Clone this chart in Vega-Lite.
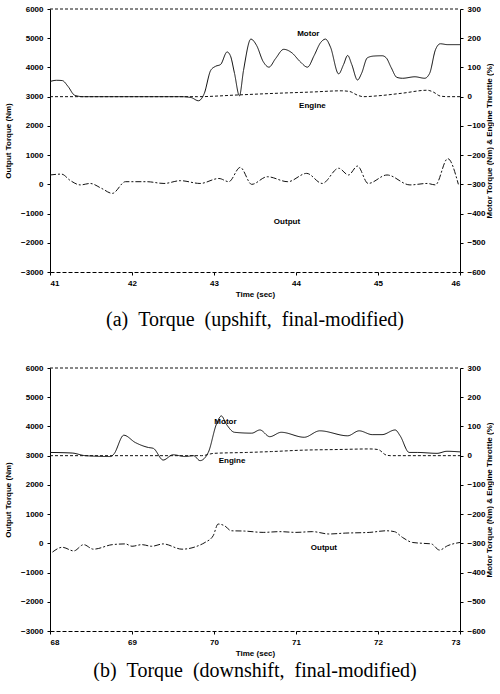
{
  "$schema": "https://vega.github.io/schema/vega-lite/v6.json",
  "background": "white",
  "padding": {"left": 4, "top": 5, "right": 0, "bottom": 0},
  "config": {
    "font": "Liberation Sans",
    "view": {"stroke": null},
    "axis": {"grid": false, "domainColor": "#000", "tickColor": "#000", "labelColor": "#000", "titleColor": "#000", "labelFont": "Liberation Sans", "labelFontSize": 8, "labelFontWeight": "bold", "titleFont": "Liberation Sans", "titleFontSize": 8, "titleFontWeight": "bold", "tickSize": 3, "labelPadding": 4, "format": "d"},
    "title": {"font": "Liberation Serif", "fontSize": 20, "fontWeight": "normal", "color": "#000"}
  },
  "datasets": {
    "d": [
      {"p":"a","s":"Motor","t":41.0,"v":52},{"p":"a","s":"Motor","t":41.08,"v":56},{"p":"a","s":"Motor","t":41.15,"v":55},{"p":"a","s":"Motor","t":41.22,"v":35},{"p":"a","s":"Motor","t":41.3,"v":5},{"p":"a","s":"Motor","t":41.4,"v":0},{"p":"a","s":"Motor","t":42.0,"v":0},{"p":"a","s":"Motor","t":42.6,"v":0},{"p":"a","s":"Motor","t":42.72,"v":-3},{"p":"a","s":"Motor","t":42.81,"v":-14},{"p":"a","s":"Motor","t":42.88,"v":10},{"p":"a","s":"Motor","t":42.96,"v":90},{"p":"a","s":"Motor","t":43.02,"v":104},{"p":"a","s":"Motor","t":43.08,"v":110},{"p":"a","s":"Motor","t":43.16,"v":153},{"p":"a","s":"Motor","t":43.2,"v":140},{"p":"a","s":"Motor","t":43.25,"v":80},{"p":"a","s":"Motor","t":43.31,"v":3},{"p":"a","s":"Motor","t":43.36,"v":90},{"p":"a","s":"Motor","t":43.45,"v":197},{"p":"a","s":"Motor","t":43.52,"v":175},{"p":"a","s":"Motor","t":43.6,"v":120},{"p":"a","s":"Motor","t":43.67,"v":101},{"p":"a","s":"Motor","t":43.75,"v":130},{"p":"a","s":"Motor","t":43.85,"v":162},{"p":"a","s":"Motor","t":43.95,"v":150},{"p":"a","s":"Motor","t":44.05,"v":120},{"p":"a","s":"Motor","t":44.14,"v":101},{"p":"a","s":"Motor","t":44.22,"v":140},{"p":"a","s":"Motor","t":44.3,"v":185},{"p":"a","s":"Motor","t":44.36,"v":197},{"p":"a","s":"Motor","t":44.42,"v":170},{"p":"a","s":"Motor","t":44.52,"v":78},{"p":"a","s":"Motor","t":44.58,"v":110},{"p":"a","s":"Motor","t":44.63,"v":141},{"p":"a","s":"Motor","t":44.68,"v":110},{"p":"a","s":"Motor","t":44.75,"v":57},{"p":"a","s":"Motor","t":44.8,"v":80},{"p":"a","s":"Motor","t":44.87,"v":133},{"p":"a","s":"Motor","t":44.95,"v":139},{"p":"a","s":"Motor","t":45.05,"v":140},{"p":"a","s":"Motor","t":45.1,"v":133},{"p":"a","s":"Motor","t":45.16,"v":100},{"p":"a","s":"Motor","t":45.23,"v":66},{"p":"a","s":"Motor","t":45.3,"v":63},{"p":"a","s":"Motor","t":45.45,"v":68},{"p":"a","s":"Motor","t":45.57,"v":63},{"p":"a","s":"Motor","t":45.63,"v":80},{"p":"a","s":"Motor","t":45.7,"v":160},{"p":"a","s":"Motor","t":45.76,"v":181},{"p":"a","s":"Motor","t":45.85,"v":178},{"p":"a","s":"Motor","t":46.0,"v":178},
      {"p":"a","s":"Engine","t":41.0,"v":0},{"p":"a","s":"Engine","t":42.8,"v":0},{"p":"a","s":"Engine","t":43.3,"v":6},{"p":"a","s":"Engine","t":43.8,"v":12},{"p":"a","s":"Engine","t":44.2,"v":16},{"p":"a","s":"Engine","t":44.55,"v":20},{"p":"a","s":"Engine","t":44.65,"v":18},{"p":"a","s":"Engine","t":44.75,"v":5},{"p":"a","s":"Engine","t":44.82,"v":0},{"p":"a","s":"Engine","t":45.0,"v":3},{"p":"a","s":"Engine","t":45.3,"v":12},{"p":"a","s":"Engine","t":45.6,"v":22},{"p":"a","s":"Engine","t":45.68,"v":15},{"p":"a","s":"Engine","t":45.76,"v":2},{"p":"a","s":"Engine","t":45.85,"v":0},{"p":"a","s":"Engine","t":46.0,"v":0},
      {"p":"a","s":"Output","t":41.0,"v":320},{"p":"a","s":"Output","t":41.14,"v":350},{"p":"a","s":"Output","t":41.25,"v":125},{"p":"a","s":"Output","t":41.37,"v":-20},{"p":"a","s":"Output","t":41.49,"v":30},{"p":"a","s":"Output","t":41.63,"v":-140},{"p":"a","s":"Output","t":41.76,"v":-310},{"p":"a","s":"Output","t":41.92,"v":90},{"p":"a","s":"Output","t":42.18,"v":90},{"p":"a","s":"Output","t":42.39,"v":30},{"p":"a","s":"Output","t":42.59,"v":125},{"p":"a","s":"Output","t":42.83,"v":30},{"p":"a","s":"Output","t":43.06,"v":200},{"p":"a","s":"Output","t":43.18,"v":90},{"p":"a","s":"Output","t":43.32,"v":580},{"p":"a","s":"Output","t":43.46,"v":0},{"p":"a","s":"Output","t":43.65,"v":260},{"p":"a","s":"Output","t":43.9,"v":90},{"p":"a","s":"Output","t":44.13,"v":375},{"p":"a","s":"Output","t":44.32,"v":30},{"p":"a","s":"Output","t":44.52,"v":550},{"p":"a","s":"Output","t":44.64,"v":320},{"p":"a","s":"Output","t":44.75,"v":625},{"p":"a","s":"Output","t":44.88,"v":30},{"p":"a","s":"Output","t":45.11,"v":320},{"p":"a","s":"Output","t":45.39,"v":-20},{"p":"a","s":"Output","t":45.6,"v":30},{"p":"a","s":"Output","t":45.7,"v":-20},{"p":"a","s":"Output","t":45.85,"v":880},{"p":"a","s":"Output","t":45.98,"v":0},
      {"p":"b","s":"Motor","t":68.0,"v":11},{"p":"b","s":"Motor","t":68.27,"v":9},{"p":"b","s":"Motor","t":68.43,"v":0},{"p":"b","s":"Motor","t":68.74,"v":-3},{"p":"b","s":"Motor","t":68.78,"v":6},{"p":"b","s":"Motor","t":68.9,"v":70},{"p":"b","s":"Motor","t":69.04,"v":45},{"p":"b","s":"Motor","t":69.2,"v":28},{"p":"b","s":"Motor","t":69.26,"v":25},{"p":"b","s":"Motor","t":69.38,"v":-15},{"p":"b","s":"Motor","t":69.5,"v":3},{"p":"b","s":"Motor","t":69.65,"v":-3},{"p":"b","s":"Motor","t":69.75,"v":0},{"p":"b","s":"Motor","t":69.83,"v":-17},{"p":"b","s":"Motor","t":69.93,"v":11},{"p":"b","s":"Motor","t":70.03,"v":108},{"p":"b","s":"Motor","t":70.09,"v":136},{"p":"b","s":"Motor","t":70.15,"v":108},{"p":"b","s":"Motor","t":70.25,"v":80},{"p":"b","s":"Motor","t":70.46,"v":77},{"p":"b","s":"Motor","t":70.56,"v":88},{"p":"b","s":"Motor","t":70.68,"v":65},{"p":"b","s":"Motor","t":70.82,"v":80},{"p":"b","s":"Motor","t":71.1,"v":63},{"p":"b","s":"Motor","t":71.29,"v":85},{"p":"b","s":"Motor","t":71.63,"v":68},{"p":"b","s":"Motor","t":71.77,"v":85},{"p":"b","s":"Motor","t":71.93,"v":72},{"p":"b","s":"Motor","t":72.05,"v":72},{"p":"b","s":"Motor","t":72.21,"v":88},{"p":"b","s":"Motor","t":72.27,"v":68},{"p":"b","s":"Motor","t":72.38,"v":11},{"p":"b","s":"Motor","t":72.48,"v":11},{"p":"b","s":"Motor","t":72.72,"v":8},{"p":"b","s":"Motor","t":72.84,"v":15},{"p":"b","s":"Motor","t":73.0,"v":13},
      {"p":"b","s":"Engine","t":68.0,"v":0},{"p":"b","s":"Engine","t":69.85,"v":0},{"p":"b","s":"Engine","t":70.0,"v":8},{"p":"b","s":"Engine","t":70.4,"v":11},{"p":"b","s":"Engine","t":70.7,"v":14},{"p":"b","s":"Engine","t":71.1,"v":19},{"p":"b","s":"Engine","t":71.5,"v":21},{"p":"b","s":"Engine","t":71.9,"v":23},{"p":"b","s":"Engine","t":72.0,"v":21},{"p":"b","s":"Engine","t":72.1,"v":2},{"p":"b","s":"Engine","t":72.15,"v":0},{"p":"b","s":"Engine","t":73.0,"v":0},
      {"p":"b","s":"Output","t":68.03,"v":-300},{"p":"b","s":"Output","t":68.15,"v":-135},{"p":"b","s":"Output","t":68.29,"v":-260},{"p":"b","s":"Output","t":68.41,"v":-45},{"p":"b","s":"Output","t":68.53,"v":-200},{"p":"b","s":"Output","t":68.76,"v":-45},{"p":"b","s":"Output","t":68.92,"v":-20},{"p":"b","s":"Output","t":69.0,"v":-100},{"p":"b","s":"Output","t":69.12,"v":-45},{"p":"b","s":"Output","t":69.24,"v":-100},{"p":"b","s":"Output","t":69.38,"v":-20},{"p":"b","s":"Output","t":69.61,"v":-200},{"p":"b","s":"Output","t":69.81,"v":-80},{"p":"b","s":"Output","t":69.89,"v":30},{"p":"b","s":"Output","t":69.99,"v":260},{"p":"b","s":"Output","t":70.05,"v":660},{"p":"b","s":"Output","t":70.13,"v":600},{"p":"b","s":"Output","t":70.21,"v":430},{"p":"b","s":"Output","t":70.37,"v":420},{"p":"b","s":"Output","t":70.6,"v":375},{"p":"b","s":"Output","t":70.8,"v":400},{"p":"b","s":"Output","t":71.0,"v":375},{"p":"b","s":"Output","t":71.2,"v":400},{"p":"b","s":"Output","t":71.4,"v":320},{"p":"b","s":"Output","t":71.6,"v":350},{"p":"b","s":"Output","t":71.9,"v":375},{"p":"b","s":"Output","t":72.1,"v":430},{"p":"b","s":"Output","t":72.2,"v":400},{"p":"b","s":"Output","t":72.3,"v":200},{"p":"b","s":"Output","t":72.42,"v":30},{"p":"b","s":"Output","t":72.55,"v":0},{"p":"b","s":"Output","t":72.65,"v":-20},{"p":"b","s":"Output","t":72.75,"v":-230},{"p":"b","s":"Output","t":72.85,"v":-80},{"p":"b","s":"Output","t":73.0,"v":30}
    ],
    "labels": [
      {"p":"a","label":"Motor","t":44.15,"v":5130},
      {"p":"a","label":"Engine","t":44.2,"v":2680},
      {"p":"a","label":"Output","t":43.89,"v":-1290},
      {"p":"b","label":"Motor","t":70.14,"v":4160},
      {"p":"b","label":"Engine","t":70.22,"v":2830},
      {"p":"b","label":"Output","t":71.34,"v":-170}
    ],
    "frame": [
      {"p":"a","t":41,"top":6000},{"p":"a","t":46,"top":6000},
      {"p":"b","t":68,"top":6000},{"p":"b","t":73,"top":6000}
    ]
  },
  "vconcat": [
    {
      "width": 410, "height": 263,
      "title": {"text": "(a)\u00a0\u00a0Torque\u00a0\u00a0(upshift,\u00a0\u00a0final-modified)", "orient": "bottom", "offset": 12},
      "layer": [
        {
          "data": {"name": "d"},
          "transform": [{"filter": "datum.p === 'a' && datum.s !== 'Output'"}],
          "mark": {"type": "line", "interpolate": "monotone", "strokeWidth": 1, "color": "#111"},
          "encoding": {
            "x": {"field": "t", "type": "quantitative", "scale": {"domain": [41, 46], "nice": false}, "axis": {"values": [41,42,43,44,45,46], "title": "Time (sec)", "domainDash": [4, 2], "titlePadding": 3}},
            "y": {"field": "v", "type": "quantitative", "scale": {"domain": [-600, 300], "nice": false}, "axis": {"orient": "right", "values": [-600,-500,-400,-300,-200,-100,0,100,200,300], "title": "Motor Torque (Nm) & Engine Throttle (%)", "titleAngle": 270, "titlePadding": 8}},
            "detail": {"field": "s"},
            "strokeDash": {"field": "s", "type": "nominal", "scale": {"domain": ["Motor", "Engine"], "range": [[1, 0], [3, 2]]}, "legend": null}
          }
        },
        {
          "data": {"name": "d"},
          "transform": [{"filter": "datum.p === 'a' && datum.s === 'Output'"}],
          "mark": {"type": "line", "interpolate": "monotone", "strokeWidth": 1, "color": "#111", "strokeDash": [6, 2, 2, 2]},
          "encoding": {
            "x": {"field": "t", "type": "quantitative"},
            "y": {"field": "v", "type": "quantitative", "scale": {"domain": [-3000, 6000], "nice": false}, "axis": {"orient": "left", "values": [-3000,-2000,-1000,0,1000,2000,3000,4000,5000,6000], "title": "Output Torque (Nm)", "titlePadding": 8}}
          }
        },
        {
          "data": {"name": "frame"},
          "transform": [{"filter": "datum.p === 'a'"}],
          "mark": {"type": "line", "strokeWidth": 1, "color": "#111", "strokeDash": [3, 2]},
          "encoding": {
            "x": {"field": "t", "type": "quantitative"},
            "y": {"field": "top", "type": "quantitative", "scale": {"domain": [-3000, 6000], "nice": false}, "axis": null}
          }
        },
        {
          "data": {"name": "labels"},
          "transform": [{"filter": "datum.p === 'a'"}],
          "mark": {"type": "text", "font": "Liberation Sans", "fontSize": 8, "fontWeight": "bold", "color": "#000"},
          "encoding": {
            "x": {"field": "t", "type": "quantitative"},
            "y": {"field": "v", "type": "quantitative", "scale": {"domain": [-3000, 6000], "nice": false}, "axis": null},
            "text": {"field": "label"}
          }
        }
      ],
      "resolve": {"scale": {"y": "independent"}, "axis": {"y": "independent"}}
    },
    {
      "width": 410, "height": 263,
      "title": {"text": "(b)\u00a0\u00a0Torque\u00a0\u00a0(downshift,\u00a0\u00a0final-modified)", "orient": "bottom", "offset": 4},
      "layer": [
        {
          "data": {"name": "d"},
          "transform": [{"filter": "datum.p === 'b' && datum.s !== 'Output'"}],
          "mark": {"type": "line", "interpolate": "monotone", "strokeWidth": 1, "color": "#111"},
          "encoding": {
            "x": {"field": "t", "type": "quantitative", "scale": {"domain": [68, 73], "nice": false}, "axis": {"values": [68,69,70,71,72,73], "title": "Time (sec)", "domainDash": [4, 2], "titlePadding": 3}},
            "y": {"field": "v", "type": "quantitative", "scale": {"domain": [-600, 300], "nice": false}, "axis": {"orient": "right", "values": [-600,-500,-400,-300,-200,-100,0,100,200,300], "title": "Motor Torque (Nm) & Engine Throttle (%)", "titleAngle": 270, "titlePadding": 8}},
            "detail": {"field": "s"},
            "strokeDash": {"field": "s", "type": "nominal", "scale": {"domain": ["Motor", "Engine"], "range": [[1, 0], [3, 2]]}, "legend": null}
          }
        },
        {
          "data": {"name": "d"},
          "transform": [{"filter": "datum.p === 'b' && datum.s === 'Output'"}],
          "mark": {"type": "line", "interpolate": "monotone", "strokeWidth": 1, "color": "#111", "strokeDash": [6, 2, 2, 2]},
          "encoding": {
            "x": {"field": "t", "type": "quantitative"},
            "y": {"field": "v", "type": "quantitative", "scale": {"domain": [-3000, 6000], "nice": false}, "axis": {"orient": "left", "values": [-3000,-2000,-1000,0,1000,2000,3000,4000,5000,6000], "title": "Output Torque (Nm)", "titlePadding": 8}}
          }
        },
        {
          "data": {"name": "frame"},
          "transform": [{"filter": "datum.p === 'b'"}],
          "mark": {"type": "line", "strokeWidth": 1, "color": "#111", "strokeDash": [3, 2]},
          "encoding": {
            "x": {"field": "t", "type": "quantitative"},
            "y": {"field": "top", "type": "quantitative", "scale": {"domain": [-3000, 6000], "nice": false}, "axis": null}
          }
        },
        {
          "data": {"name": "labels"},
          "transform": [{"filter": "datum.p === 'b'"}],
          "mark": {"type": "text", "font": "Liberation Sans", "fontSize": 8, "fontWeight": "bold", "color": "#000"},
          "encoding": {
            "x": {"field": "t", "type": "quantitative"},
            "y": {"field": "v", "type": "quantitative", "scale": {"domain": [-3000, 6000], "nice": false}, "axis": null},
            "text": {"field": "label"}
          }
        }
      ],
      "resolve": {"scale": {"y": "independent"}, "axis": {"y": "independent"}}
    }
  ],
  "spacing": 34
}
